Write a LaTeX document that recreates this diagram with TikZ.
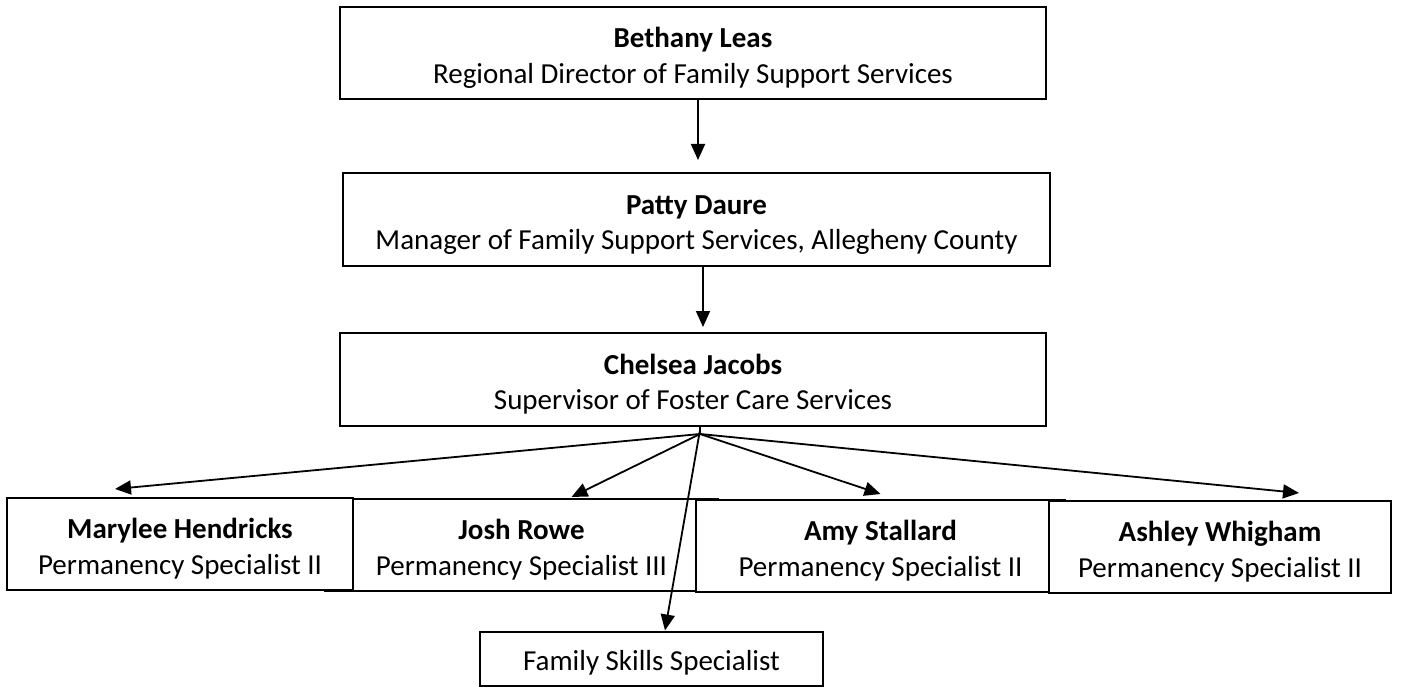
\documentclass[tikz,border=0pt]{standalone}
\usepackage{fontspec}
\setmainfont{Carlito}
\usetikzlibrary{arrows.meta,positioning}
\newcommand{\orgname}[1]{\rule{0pt}{30pt}\textbf{#1}}
\tikzset{
  >={Triangle[length=16pt,width=14pt]},
  every node/.style={font=\fontsize{29}{35.5}\selectfont,text=black},
  orgbox/.style={draw=black,line width=2pt,fill=white,align=center,inner sep=0pt,minimum height=92pt},
  arrow/.style={->,line width=1.8pt,draw=black},
}
\begin{document}
\begin{tikzpicture}[x=1pt,y=-1pt]
\useasboundingbox[fill=white] (0,0) rectangle (1403,687);
% management chain
\node[orgbox,minimum width=706pt] (bethany) at (693,53) {\orgname{Bethany Leas}\\Regional Director of Family Support Services};
\node[orgbox,minimum width=707pt,minimum height=93pt] (patty) at (696.5,219.5) {\orgname{Patty Daure}\\Manager of Family Support Services, Allegheny County};
\node[orgbox,minimum width=706pt,minimum height=93pt] (chelsea) at (693,379.5) {\orgname{Chelsea Jacobs}\\Supervisor of Foster Care Services};
% staff row (drawn in overlap order)
\node[orgbox,minimum width=393pt] (josh) at (521.5,545) {\orgname{Josh Rowe}\\Permanency Specialist III};
\node[orgbox,minimum width=346pt] (marylee) at (180,544) {\orgname{Marylee Hendricks}\\Permanency Specialist II};
\node[orgbox,minimum width=369pt] (amy) at (880.5,546) {\orgname{Amy Stallard}\\Permanency Specialist II};
\node[orgbox,minimum width=342pt] (ashley) at (1220,547) {\orgname{Ashley Whigham}\\Permanency Specialist II};
\node[orgbox,minimum width=343pt,minimum height=54pt] (skills) at (651.5,658.5) {\rule{0pt}{29pt}Family Skills Specialist};
\coordinate (hub) at (700,434);
\draw[arrow,shorten >=12pt] ([xshift=5pt]bethany.south) -- ([xshift=5pt]bethany.south |- patty.north);
\draw[arrow,shorten >=5pt] ([xshift=6.5pt]patty.south) -- ([xshift=6.5pt]patty.south |- chelsea.north);
\draw[line width=1.8pt] (hub |- chelsea.south) -- (hub);
\draw[arrow] (hub) -- ([xshift=-65pt,yshift=8pt]marylee.north);
\draw[arrow] (hub) -- ([xshift=50pt,yshift=1pt]josh.north);
\draw[arrow] (hub) -- ([yshift=5pt]amy.north);
\draw[arrow] (hub) -- ([xshift=79pt,yshift=7pt]ashley.north);
\draw[arrow] ([xshift=7pt,yshift=-3pt]chelsea.south) -- ([xshift=13.5pt]skills.north);
\end{tikzpicture}
\end{document}
